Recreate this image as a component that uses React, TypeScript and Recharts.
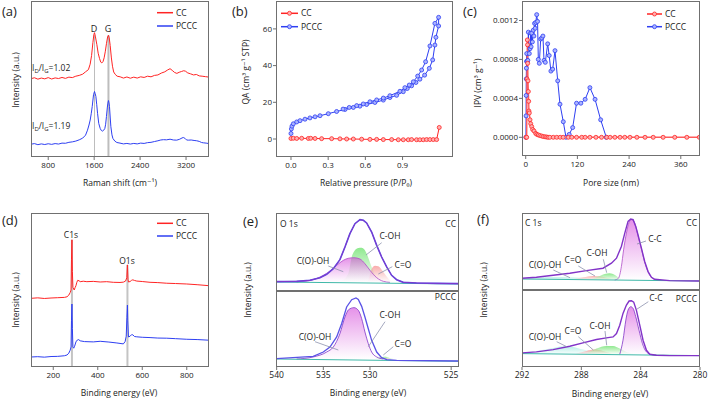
import React from 'react';
import { ComposedChart, Line, Area, XAxis, YAxis, ReferenceLine } from 'recharts';

const FONT = '"Open Sans", "DejaVu Sans", sans-serif';
const RED = '#ff2424';
const BLUE = '#2e3ff2';
const FRAME = '#707070';
const TXT = '#222';
const PURPLE = '#8233c8';
const BASE = '#3fb8a8';

// ---------- (a) Raman ----------
const ramanCC = [
  [500, 50.2], [560, 50.8], [620, 49.9], [680, 50.6], [740, 50.1], [800, 50.9], [860, 50.0], [920, 50.7],
  [980, 50.3], [1040, 51.0], [1100, 50.4], [1160, 51.2], [1220, 50.9], [1280, 51.8], [1340, 52.3], [1400, 53.1],
  [1450, 54.6], [1500, 56.0], [1530, 59.5], [1555, 65.0], [1578, 73.3], [1595, 78.5], [1606, 79.7], [1620, 77.5],
  [1647, 72.0], [1670, 66.5], [1693, 63.2], [1715, 60.8], [1734, 60.3], [1755, 61.2], [1774, 63.6], [1795, 67.8],
  [1815, 72.9], [1835, 77.0], [1849, 78.0], [1862, 76.4], [1879, 71.5], [1900, 63.5], [1919, 58.2], [1940, 54.5],
  [1966, 53.0], [2000, 51.8], [2053, 51.4], [2110, 50.6], [2170, 51.3], [2230, 50.5], [2290, 51.2], [2350, 50.6],
  [2410, 51.4], [2470, 51.0], [2530, 51.8], [2590, 51.4], [2650, 52.3], [2710, 52.6], [2770, 53.8], [2830, 54.6],
  [2880, 55.8], [2922, 56.6], [2960, 55.5], [3000, 54.2], [3040, 53.6], [3080, 54.3], [3120, 54.8], [3160, 55.3],
  [3190, 55.0], [3230, 53.9], [3280, 53.3], [3330, 52.6], [3380, 52.9], [3430, 52.0], [3480, 51.8], [3540, 51.5],
  [3600, 51.2],
];
const ramanPCCC = [
  [500, 8.2], [560, 8.6], [620, 7.9], [680, 8.4], [740, 8.0], [800, 8.5], [860, 8.1], [920, 8.6], [980, 8.3],
  [1040, 8.9], [1100, 8.8], [1160, 9.4], [1220, 9.7], [1280, 10.2], [1340, 11.0], [1400, 12.1], [1450, 14.0],
  [1484, 17.2], [1510, 20.5], [1531, 23.7], [1550, 28.0], [1566, 32.3], [1589, 39.9], [1606, 42.0], [1618, 40.6],
  [1630, 38.8], [1645, 33.5], [1659, 28.0], [1680, 21.5], [1705, 18.3], [1725, 17.0], [1745, 16.6], [1765, 17.1],
  [1786, 18.3], [1800, 21.0], [1814, 25.9], [1830, 32.0], [1839, 34.5], [1849, 36.2], [1858, 34.8], [1867, 32.3],
  [1880, 25.0], [1891, 19.4], [1910, 14.2], [1926, 11.9], [1960, 10.2], [1995, 9.3], [2050, 8.9], [2110, 8.4],
  [2170, 8.7], [2230, 8.3], [2290, 8.7], [2350, 8.4], [2410, 8.9], [2470, 8.7], [2530, 9.2], [2590, 9.4],
  [2650, 9.9], [2710, 10.4], [2760, 10.9], [2806, 11.1], [2860, 11.0], [2922, 11.4], [2980, 10.9], [3038, 10.8],
  [3090, 11.4], [3130, 12.2], [3153, 12.5], [3180, 12.0], [3210, 10.9], [3240, 10.8], [3290, 10.9], [3340, 10.6],
  [3386, 10.4], [3430, 10.0], [3470, 9.3], [3501, 9.1], [3550, 8.9], [3600, 8.6],
];
const ramanTicks = [800, 1600, 2400, 3200];
const ramanPeaks = [1606, 1849];

// ---------- (b) isotherm ----------
const isoCC = [
  [0.0, 0.3], [0.019, 0.4], [0.046, 0.3], [0.086, 0.4], [0.14, 0.3], [0.159, 0.4], [0.194, 0.3], [0.247, 0.2],
  [0.328, 0.2], [0.395, 0.1], [0.449, 0.0], [0.503, 0.0], [0.57, -0.1], [0.637, -0.2], [0.691, -0.2], [0.745, -0.3],
  [0.812, -0.3], [0.866, -0.4], [0.906, -0.4], [0.946, -0.4], [0.973, -0.3], [1.013, -0.4], [1.04, -0.4],
  [1.067, -0.4], [1.094, -0.3], [1.121, -0.3], [1.148, -0.3], [1.175, -0.3], [1.196, 6.3],
];
const isoPCCC = [
  [0.0, 3.0], [0.003, 5.5], [0.008, 7.0], [0.019, 8.3], [0.046, 9.3], [0.073, 10.0], [0.113, 10.8], [0.153, 11.5],
  [0.194, 12.1], [0.234, 12.7], [0.301, 13.8], [0.368, 15.0], [0.436, 16.1], [0.503, 17.2], [0.556, 17.9],
  [0.61, 18.8], [0.677, 19.9], [0.745, 21.2], [0.798, 22.6], [0.852, 23.8], [0.906, 25.8], [0.938, 27.5],
  [0.973, 29.0], [1.008, 30.8], [1.04, 32.6], [1.078, 34.8], [1.116, 38.5], [1.143, 43.1], [1.161, 51.2],
  [1.169, 55.4], [1.191, 61.6], [1.191, 66.3], [1.161, 63.0], [1.121, 50.7], [1.086, 42.1], [1.054, 37.6],
  [1.022, 34.3], [0.987, 31.2], [0.954, 29.4], [0.919, 28.0], [0.879, 26.0], [0.798, 23.6], [0.745, 22.3],
  [0.691, 21.3], [0.637, 20.3], [0.583, 19.1], [0.53, 18.2], [0.47, 17.2], [0.42, 16.3],
];
const isoXTicks = [0, 0.3, 0.6, 0.9];
const isoYTicks = [0, 20, 40, 60];

// ---------- (c) pore size distribution ----------
const poreCC = [
  [0.7, 0], [2.3, 0], [3.0, 0.0006], [3.8, 0.001], [4.2, 0.00095], [4.6, 0.00076], [5.3, 0.00058], [6.1, 0.00047],
  [6.9, 0.00037], [7.5, 0.00027], [8.4, 0.00025], [10, 0.00018], [11.6, 0.00014], [13.9, 0.00011], [16.2, 0.00008],
  [19.3, 0.000065], [23.2, 0.00004], [26, 0.00003], [29.3, 0.000024], [33, 0.000018], [37.1, 0.000013],
  [41, 0.000008], [45, 0.000005], [48.7, 0.000003], [52, 0], [56, 0], [64, 0], [72, 0], [80, 0], [87, 0], [99, 0],
  [107, 0], [118, 0], [130, 0], [138, 0], [149, 0], [163, 0], [176, 0], [188, 0], [196, 0], [207, 0], [219, 0],
  [230, 0], [242, 0], [258, 0], [277, 0], [296, 0], [319, 0], [346, 0], [374, 0], [403, 0],
];
const porePCCC = [
  [0.5, 0], [0.8, 0.00022], [1.0, 0.00043], [1.3, 0.0006], [1.6, 0.00071], [2.0, 0.00078], [2.4, 0.00086],
  [3.5, 0.00078], [5.0, 0.00079], [6.1, 0.00108], [8.4, 0.00086], [10, 0.00091], [11.5, 0.00107], [12.5, 0.00093],
  [14, 0.00107], [15.5, 0.00098], [17.6, 0.0011], [19, 0.00104], [20.5, 0.00117], [22, 0.00112], [23.5, 0.00118],
  [25.5, 0.00126], [27.5, 0.00119], [29.3, 0.0008], [31.6, 0.00076], [34.8, 0.00101], [37.5, 0.00102],
  [40, 0.00104], [42.5, 0.00079], [45.5, 0.00077], [51, 0.00096], [54.5, 0.00084], [58.5, 0.00068],
  [62.6, 0.0007], [68, 0.00089], [74.3, 0.00058], [79.6, 0.00034], [87.3, 0.00016], [93.5, 0], [101, 0.00003],
  [109, 0.0001], [118, 0.00035], [128, 0.00035], [138, 0.00039], [149, 0.00051], [161, 0.00039], [174, 0.00018],
  [187, 0],
];
const poreXTicks = [0, 120, 240, 360];
const poreYTicks = [0, 0.0004, 0.0008, 0.0012];

// ---------- (d) XPS survey ----------
const surveyCC = [
  [100, 44.6], [130, 44.9], [160, 44.5], [190, 44.8], [220, 45.0], [250, 45.2], [262, 45.6], [270, 46.7],
  [276, 48.3], [280, 50], [282, 70], [284, 82.6], [286, 62], [288.4, 51.7], [292, 50.6], [294.3, 50.0],
  [298, 51.5], [302, 52.8], [306, 55.0], [310, 56.3], [316, 56.0], [321, 55.4], [335, 55.7], [351, 55.4],
  [380, 55.6], [411, 55.2], [440, 55.4], [470, 55.0], [500, 54.9], [515, 55.1], [525, 55.8], [530.5, 58],
  [533.4, 66.3], [536, 57], [538, 55.2], [545.5, 55.5], [552, 56.3], [557.6, 56.6], [565, 56.2], [575.5, 55.8],
  [600, 55.5], [635, 55.0], [670, 54.8], [710, 54.4], [750, 54.2], [800, 53.9], [850, 53.4], [900, 52.8],
];
const surveyPCCC = [
  [100, 6.5], [130, 6.7], [160, 6.4], [190, 6.8], [220, 6.9], [250, 7.3], [262, 7.8], [270, 9.0], [276, 10.9],
  [280, 13], [282, 30], [284, 40.9], [286, 25], [288.4, 13.0], [292, 12.2], [296, 13.5], [302, 16.3], [308, 17.5],
  [314, 17.8], [321, 17.0], [340, 16.5], [380, 16.3], [411, 16.7], [450, 16.2], [486, 15.6], [515, 15.0],
  [523, 16.5], [528, 20], [531, 32], [533.4, 40.2], [535, 30], [538, 19.5], [545.5, 20.0], [552, 21.0],
  [557.6, 20.9], [565, 19.8], [575.5, 19.6], [600, 19.3], [635, 19.1], [670, 18.8], [710, 18.7], [750, 18.4],
  [800, 18.0], [850, 17.8], [900, 17.4],
];
const surveyTicks = [200, 400, 600, 800];
const surveyPeaks = [[284, 82.6], [533.4, 66.3]];

// ---------- (e) O 1s ----------
const o1sTicks = [540, 535, 530, 521.3];
const o1sTickLabels = ['540', '535', '530', '525'];
const o1sCCEnv = [
  [540.0, 12.0], [537.86, 12.4], [536.43, 13.7], [535.36, 17.1], [534.64, 21.4], [533.93, 28.6], [533.22, 40.2],
  [532.68, 56.4], [532.15, 73.5], [531.61, 86.3], [531.07, 91.5], [530.71, 90.6], [530.36, 87.2], [529.82, 75.6],
  [529.28, 58.5], [528.75, 43.6], [528.21, 30.8], [527.68, 20.1], [527.14, 14.5], [526.43, 11.1], [525.0, 10.3],
  [522.85, 9.8], [520.43, 9.4],
];
const o1sCCCOOH = [
  [537.86, 11.5], [536.08, 14.5], [535.0, 20.1], [534.29, 25.6], [533.57, 32.9], [532.86, 39.3], [532.33, 41.9],
  [531.72, 42.7], [531.07, 41.0], [530.54, 35.0], [530.0, 26.5], [529.28, 17.1], [528.57, 12.4], [527.86, 11.1],
];
const o1sCCCOH = [
  [533.2, 11.5], [532.33, 22], [531.96, 43.6], [531.61, 52.1], [531.25, 55.1], [530.89, 55.6], [530.54, 52.1],
  [530.18, 42.7], [529.82, 30.8], [529.28, 17.1], [528.75, 12.0],
];
const o1sCCCO = [
  [530.36, 11.5], [530.18, 13.7], [529.82, 28.6], [529.46, 32.5], [529.11, 31.6], [528.75, 27.4], [528.39, 21.4],
  [527.86, 13.7], [527.32, 11.1],
];
const o1sCCBase = [[540.0, 11.5], [520.43, 9.0]];
const o1sPCCCEnv = [
  [540.0, 11.0], [536.08, 14.0], [535.0, 19.7], [534.29, 26.3], [533.57, 39.5], [533.04, 57.0], [532.5, 79.0],
  [531.96, 88.6], [531.5, 90.8], [531.25, 89.0], [530.89, 79.8], [530.54, 65.8], [530.18, 50.4], [529.82, 35.1],
  [529.28, 19.7], [528.75, 12.3], [528.21, 9.6], [527.14, 8.8], [520.43, 7.9],
];
const o1sPCCCCOOH = [
  [537.86, 10.5], [536.08, 13.2], [534.64, 19.7], [533.93, 26.3], [533.22, 43.9], [532.68, 65.8], [532.29, 75.4],
  [531.72, 78.1], [531.25, 74.6], [530.89, 63.6], [530.54, 46.1], [530.18, 30.7], [529.82, 19.7], [529.28, 13.2],
  [528.57, 10.5],
];
const o1sPCCCCOH = [[529.6, 10], [529.0, 12.5], [528.4, 13.5], [527.9, 12], [527.3, 10]];
const o1sPCCCCO = [[529.0, 10], [528.6, 11.5], [528.0, 11], [527.5, 10]];
const o1sPCCCBase = [[540.0, 10.5], [520.43, 7.5]];

// ---------- (f) C 1s ----------
const c1sTicks = [292, 288, 284, 280];
const c1sCCEnv = [
  [292, 15.2], [291.03, 16.5], [289.9, 19.1], [288.78, 21.7], [287.66, 25.2], [286.54, 28.3], [285.97, 34.8],
  [285.63, 41.3], [285.3, 56.5], [285.07, 73.9], [284.85, 89.1], [284.67, 92.2], [284.51, 91.3], [284.33, 82.6],
  [284.18, 71.7], [283.95, 54.3], [283.73, 37.0], [283.5, 23.9], [283.27, 16.5], [283.05, 13.9], [282.04, 12.2],
  [280.02, 11.7],
];
const c1sCCCC = [
  [285.75, 13], [285.5, 15.2], [285.3, 30.4], [285.15, 52.2], [284.96, 73.9], [284.78, 87.8], [284.62, 91.3],
  [284.45, 89], [284.3, 80], [284.15, 68], [283.95, 53.5], [283.73, 36.5], [283.5, 23.5], [283.27, 16],
  [282.95, 13],
];
const c1sCCCOH = [[287.43, 13], [286.87, 17.4], [286.42, 20.9], [286.09, 21.7], [285.74, 19.6], [285.41, 15.2], [284.96, 12.2]];
const c1sCCCO = [[288.78, 13], [287.88, 16.5], [287.2, 18.3], [286.65, 17.4], [286.09, 14.8], [285.63, 13]];
const c1sCCCOOH = [[292, 14.8], [289.9, 16.5], [288.78, 16.1], [287.65, 15.2], [286.54, 13.9], [285.41, 12.6]];
const c1sCCBase = [[292, 14.3], [280, 11.7]];
const c1sPCCCEnv = [
  [292, 18.3], [291.03, 19.6], [289.9, 22.6], [288.78, 27], [287.89, 31.3], [286.98, 35.7], [286.31, 37.8],
  [285.86, 39.1], [285.63, 43.5], [285.41, 54.3], [285.19, 69.6], [284.96, 80.4], [284.78, 85.7], [284.62, 86.1],
  [284.47, 84.3], [284.29, 73.9], [284.06, 54.3], [283.84, 34.8], [283.61, 21.7], [283.39, 16.5], [282.94, 15.2],
  [282.04, 14.8], [280.02, 14.8],
];
const c1sPCCCCC = [
  [285.41, 16.5], [285.19, 34.8], [285.0, 60.9], [284.85, 73.9], [284.67, 78.3], [284.51, 76.1], [284.33, 65.2],
  [284.11, 47.8], [283.88, 30.4], [283.61, 19.6], [283.27, 16.1], [282.94, 15.2],
];
const c1sPCCCCOH = [[287.65, 17.4], [286.98, 23.9], [286.31, 27.4], [285.86, 27.4], [285.41, 23.9], [284.96, 19.6], [284.29, 16.5]];
const c1sPCCCCO = [[288.33, 17.4], [287.65, 20.9], [287.09, 22.6], [286.54, 20.9], [285.97, 17.4]];
const c1sPCCCCOOH = [[292, 18.3], [291.03, 20.9], [289.9, 24.8], [289.12, 27], [288.56, 26.1], [287.88, 22.6], [287.2, 19.6], [286.54, 17.4]];
const c1sPCCCBase = [[292, 17.4], [280, 14.8]];

const toPts = (arr: number[][]) => arr.map(([x, y]) => ({ x, y }));

type Box = { l: number; t: number; r: number; b: number };

const boxes: Record<string, Box> = {
  a: { l: 31, t: 1, r: 209, b: 157 },
  b: { l: 276, t: 1, r: 453, b: 157 },
  c: { l: 522, t: 1, r: 700, b: 156 },
  d: { l: 31, t: 213, r: 209, b: 367 },
  eTop: { l: 276, t: 213, r: 459, b: 291 },
  eBot: { l: 276, t: 291, r: 459, b: 367 },
  fTop: { l: 522, t: 213, r: 700, b: 290 },
  fBot: { l: 522, t: 290, r: 700, b: 367 },
};

const PAD = 9; // side room so edge tick labels are not clipped

function Plot(props: any) {
  const { box, xDomain, yDomain, xTicks, xFmt, reversed, yW = 0, yTicks, yFmt, showX = true, fs = 8, children } = props;
  const tickStyle = { fontSize: fs, fill: TXT, fontFamily: FONT };
  const xh = showX ? 24 : 0;
  const w = box.r - box.l + yW + 2 * PAD;
  const h = box.b - box.t + xh + 2;
  return (
    <div style={{ position: 'absolute', left: box.l - yW - PAD, top: box.t - 1 }}>
      <ComposedChart width={w} height={h} margin={{ top: 1, right: PAD, bottom: 1, left: PAD }}>
        <XAxis
          type="number"
          dataKey="x"
          domain={xDomain}
          allowDataOverflow
          reversed={reversed}
          ticks={xTicks}
          interval={0}
          tickFormatter={xFmt}
          hide={!showX}
          height={xh}
          axisLine={false}
          tickLine={{ stroke: FRAME }}
          tickSize={3}
          tickMargin={2}
          tick={tickStyle}
        />
        <YAxis
          type="number"
          dataKey="y"
          domain={yDomain}
          allowDataOverflow
          hide={!yW}
          width={yW}
          ticks={yTicks}
          interval={0}
          tickFormatter={yFmt}
          axisLine={false}
          tickLine={{ stroke: FRAME }}
          tickSize={3}
          tickMargin={1}
          tick={tickStyle}
        />
        {children}
      </ComposedChart>
    </div>
  );
}

const spectrum = (data: number[][], color: string, w = 1) => (
  <Line data={toPts(data)} dataKey="y" type="linear" stroke={color} strokeWidth={w} dot={false} isAnimationActive={false} />
);

const component = (data: number[][], grad: string, base: number, stroke = 'none') => (
  <Area data={toPts(data)} dataKey="y" type="monotone" baseValue={base} stroke={stroke} strokeWidth={0.8} fill={`url(#${grad})`} isAnimationActive={false} />
);

const T = ({ x, y, children, anchor = 'start', size = 8.5 }: any) => (
  <text x={x} y={y} fontSize={size} textAnchor={anchor} fill={TXT} fontFamily={FONT}>{children}</text>
);
const VT = ({ x, y, children }: any) => (
  <text transform={`translate(${x},${y}) rotate(-90)`} fontSize={8.5} textAnchor="middle" dominantBaseline="central" fill={TXT} fontFamily={FONT}>{children}</text>
);
const Lead = ({ p }: any) => <line x1={p[0]} y1={p[1]} x2={p[2]} y2={p[3]} stroke="#8d92ad" strokeWidth={0.8} />;
const LegendItem = ({ x, y, len, color, label, fill }: any) => (
  <g>
    <line x1={x} x2={x + len} y1={y} y2={y} stroke={color} strokeWidth={1.5} />
    {fill && <circle cx={x + len / 2} cy={y} r={2} fill={fill} stroke={color} strokeWidth={0.8} />}
    <T x={x + len + 3} y={y + 3}>{label}</T>
  </g>
);
const IdIg = ({ x, y, v }: any) => (
  <text x={x} y={y} fontSize={8.5} fill={TXT} fontFamily={FONT}>
    I<tspan fontSize={6} dy={2}>D</tspan><tspan dy={-2}>/I</tspan><tspan fontSize={6} dy={2}>G</tspan><tspan dy={-2}>={v}</tspan>
  </text>
);

const App = () => {
  const grad = (id: string, c: string, o = 0.95) => (
    <linearGradient id={id} x1="0" y1="0" x2="0" y2="1">
      <stop offset="0%" stopColor={c} stopOpacity={o} />
      <stop offset="100%" stopColor="#ffffff" stopOpacity={0.9} />
    </linearGradient>
  );
  return (
    <div style={{ position: 'absolute', left: 0, top: 0, width: 709, height: 402, background: '#fff', overflow: 'hidden' }}>
      <svg width={0} height={0} style={{ position: 'absolute' }}>
        <defs>
          {grad('gMag', '#d23fd8')}
          {grad('gGreen', '#38d838')}
          {grad('gRed', '#f46a6a')}
          {grad('gCyan', '#7fe3d6')}
        </defs>
      </svg>

      {/* (a) */}
      <Plot box={boxes.a} xDomain={[500, 3600]} yDomain={[0, 100]} xTicks={ramanTicks}>
        {ramanPeaks.map((p, i) => (
          <ReferenceLine key={p} segment={[{ x: p, y: 0 }, { x: p, y: 78 }]} stroke="#bdbdbd" strokeWidth={i ? 2 : 1} />
        ))}
        {spectrum(ramanCC, RED)}
        {spectrum(ramanPCCC, BLUE)}
      </Plot>

      {/* (b) */}
      <Plot box={boxes.b} xDomain={[-0.121, 1.307]} yDomain={[-9.8, 75.2]} xTicks={isoXTicks} xFmt={(v: number) => v.toFixed(1)} yW={30} yTicks={isoYTicks}>
        <Line data={toPts(isoCC)} dataKey="y" type="linear" stroke={RED} strokeWidth={1} dot={{ r: 2, fill: '#ffb0b0', stroke: RED, strokeWidth: 0.8 }} isAnimationActive={false} />
        <Line data={toPts(isoPCCC)} dataKey="y" type="linear" stroke={BLUE} strokeWidth={1} dot={{ r: 2, fill: '#aab3ff', stroke: BLUE, strokeWidth: 0.8 }} isAnimationActive={false} />
      </Plot>

      {/* (c) */}
      <Plot box={boxes.c} xDomain={[-8.6, 404.6]} yDomain={[-0.000192, 0.0014]} xTicks={poreXTicks} yW={40} yTicks={poreYTicks} yFmt={(v: number) => v.toFixed(4)}>
        <Line data={toPts(porePCCC)} dataKey="y" type="linear" stroke={BLUE} strokeWidth={1} dot={{ r: 2, fill: '#aab3ff', stroke: BLUE, strokeWidth: 0.8 }} isAnimationActive={false} />
        <Line data={toPts(poreCC)} dataKey="y" type="linear" stroke="#ff5a5a" strokeWidth={1.4} dot={{ r: 2, fill: '#ffb0b0', stroke: RED, strokeWidth: 0.8 }} isAnimationActive={false} />
      </Plot>

      {/* (d) */}
      <Plot box={boxes.d} xDomain={[100, 900]} yDomain={[0, 100]} xTicks={surveyTicks}>
        {surveyPeaks.map(([p, top]) => (
          <ReferenceLine key={p} segment={[{ x: p, y: 0 }, { x: p, y: top }]} stroke="#c4c4c4" strokeWidth={2} />
        ))}
        {spectrum(surveyCC, RED)}
        {spectrum(surveyPCCC, BLUE)}
      </Plot>

      {/* (e) */}
      <Plot box={boxes.eTop} xDomain={[520.46, 540.07]} yDomain={[0, 100]} reversed showX={false}>
        {component(o1sCCCOH, 'gGreen', 11)}
        {component(o1sCCCO, 'gRed', 11)}
        {component(o1sCCCOOH, 'gMag', 11, '#b04cc8')}
        {spectrum(o1sCCBase, BASE)}
        {spectrum(o1sCCEnv, '#5a52e6', 1.6)}
        {spectrum(o1sCCEnv, PURPLE, 0.9)}
      </Plot>
      <Plot box={boxes.eBot} xDomain={[520.46, 540.07]} yDomain={[0, 100]} reversed xTicks={o1sTicks} fs={8.5}
        xFmt={(v: number) => o1sTickLabels[o1sTicks.indexOf(v)]}>
        {component(o1sPCCCCOH, 'gGreen', 10)}
        {component(o1sPCCCCO, 'gRed', 10)}
        {component(o1sPCCCCOOH, 'gMag', 10, PURPLE)}
        {spectrum(o1sPCCCBase, BASE)}
        {spectrum(o1sPCCCEnv, '#5a52e6', 1.3)}
      </Plot>

      {/* (f) */}
      <Plot box={boxes.fTop} xDomain={[280, 292]} yDomain={[0, 100]} reversed showX={false}>
        {component(c1sCCCOOH, 'gCyan', 13)}
        {component(c1sCCCO, 'gRed', 13)}
        {component(c1sCCCOH, 'gGreen', 13)}
        {component(c1sCCCC, 'gMag', 13, '#b04cc8')}
        {spectrum(c1sCCBase, BASE)}
        {spectrum(c1sCCEnv, PURPLE, 1.4)}
      </Plot>
      <Plot box={boxes.fBot} xDomain={[280, 292]} yDomain={[0, 100]} reversed xTicks={c1sTicks} fs={8.5}>
        {component(c1sPCCCCOOH, 'gCyan', 16)}
        {component(c1sPCCCCO, 'gRed', 16)}
        {component(c1sPCCCCOH, 'gGreen', 16)}
        {component(c1sPCCCCC, 'gMag', 16, PURPLE)}
        {spectrum(c1sPCCCBase, BASE)}
        {spectrum(c1sPCCCEnv, PURPLE, 1.4)}
      </Plot>

      {/* frames, titles, legends, annotations */}
      <svg width={709} height={402} style={{ position: 'absolute', left: 0, top: 0, pointerEvents: 'none' }}>
        {Object.values(boxes).map((b, i) => (
          <rect key={i} x={b.l + 0.5} y={b.t + 0.5} width={b.r - b.l - 1} height={b.b - b.t - 1} fill="none" stroke={FRAME} strokeWidth={1} />
        ))}

        <T x={2} y={15.5} size={13}>(a)</T>
        <T x={232} y={15.5} size={13}>(b)</T>
        <T x={463} y={15.5} size={13}>(c)</T>
        <T x={2} y={224.5} size={13}>(d)</T>
        <T x={243} y={225.5} size={13}>(e)</T>
        <T x={477} y={224} size={13}>(f)</T>

        <T x={120} y={186} anchor="middle">Raman shift (cm⁻¹)</T>
        <VT x={15} y={80}>Intensity (a.u.)</VT>
        <T x={366} y={186} anchor="middle">Relative pressure (P/P₀)</T>
        <VT x={245} y={72}>QA (cm³ g⁻¹ STP)</VT>
        <T x={611} y={186} anchor="middle">Pore size (nm)</T>
        <VT x={477} y={83}>IPV (cm³ g⁻¹)</VT>
        <T x={119} y={396} anchor="middle">Binding energy (eV)</T>
        <VT x={15} y={300}>Intensity (a.u.)</VT>
        <T x={368} y={396} anchor="middle">Binding energy (eV)</T>
        <VT x={247} y={290}>Intensity (a.u.)</VT>
        <T x={610} y={397} anchor="middle">Binding energy (eV)</T>
        <VT x={483} y={290}>Intensity (a.u.)</VT>

        <LegendItem x={157} y={12.7} len={16} color={RED} label="CC" />
        <LegendItem x={157} y={26} len={16} color={BLUE} label="PCCC" />
        <LegendItem x={281} y={13.3} len={17} color={RED} label="CC" fill="#ffb0b0" />
        <LegendItem x={281} y={26.7} len={17} color={BLUE} label="PCCC" fill="#aab3ff" />
        <LegendItem x={647} y={14} len={15} color={RED} label="CC" fill="#ffb0b0" />
        <LegendItem x={647} y={26.7} len={15} color={BLUE} label="PCCC" fill="#aab3ff" />
        <LegendItem x={157} y={223.3} len={16} color={RED} label="CC" />
        <LegendItem x={157} y={236} len={16} color={BLUE} label="PCCC" />

        <T x={94} y={32} anchor="middle" size={9}>D</T>
        <T x={108} y={32} anchor="middle" size={9}>G</T>
        <IdIg x={32} y={71} v="1.02" />
        <IdIg x={32} y={129} v="1.19" />

        <T x={71} y={238} anchor="middle">C1s</T>
        <T x={127} y={264} anchor="middle">O1s</T>

        <T x={280} y={227}>O 1s</T>
        <T x={456} y={227} anchor="end">CC</T>
        <T x={390} y={239} anchor="middle">C-OH</T>
        <T x={313} y={264} anchor="middle">C(O)-OH</T>
        <T x={403} y={268} anchor="middle">C=O</T>
        <T x={456} y={300} anchor="end">PCCC</T>
        <T x={390} y={318} anchor="middle">C-OH</T>
        <T x={315} y={340} anchor="middle">C(O)-OH</T>
        <T x={403} y={347} anchor="middle">C=O</T>
        <Lead p={[381.7, 242.7, 366, 255]} />
        <Lead p={[328.3, 266, 343.3, 271.7]} />
        <Lead p={[392.3, 266.7, 378.3, 274]} />
        <Lead p={[385, 321.7, 368.3, 346.7]} />
        <Lead p={[315, 341.7, 338.3, 350]} />
        <Lead p={[393.3, 346.7, 383.3, 355]} />

        <T x={525} y={226}>C 1s</T>
        <T x={697} y={226} anchor="end">CC</T>
        <T x={655} y={242} anchor="middle">C-C</T>
        <T x={597} y={255.5} anchor="middle">C-OH</T>
        <T x={573} y={263} anchor="middle">C=O</T>
        <T x={545} y={268} anchor="middle">C(O)-OH</T>
        <T x={697} y={302} anchor="end">PCCC</T>
        <T x={656} y={301} anchor="middle">C-C</T>
        <T x={600} y={329} anchor="middle">C-OH</T>
        <T x={573} y={333.5} anchor="middle">C=O</T>
        <T x={545} y={339.5} anchor="middle">C(O)-OH</T>
        <Lead p={[646, 241, 637, 244]} />
        <Lead p={[603.3, 259.3, 606.7, 272.7]} />
        <Lead p={[578.3, 266, 595, 276]} />
        <Lead p={[553.3, 270, 570, 277.7]} />
        <Lead p={[648.3, 301.7, 636.7, 309.3]} />
        <Lead p={[605, 331, 606.7, 345.3]} />
        <Lead p={[578.3, 336.7, 593.3, 350]} />
        <Lead p={[556.7, 341.7, 566.7, 346.7]} />
      </svg>
    </div>
  );
};

export default App;
